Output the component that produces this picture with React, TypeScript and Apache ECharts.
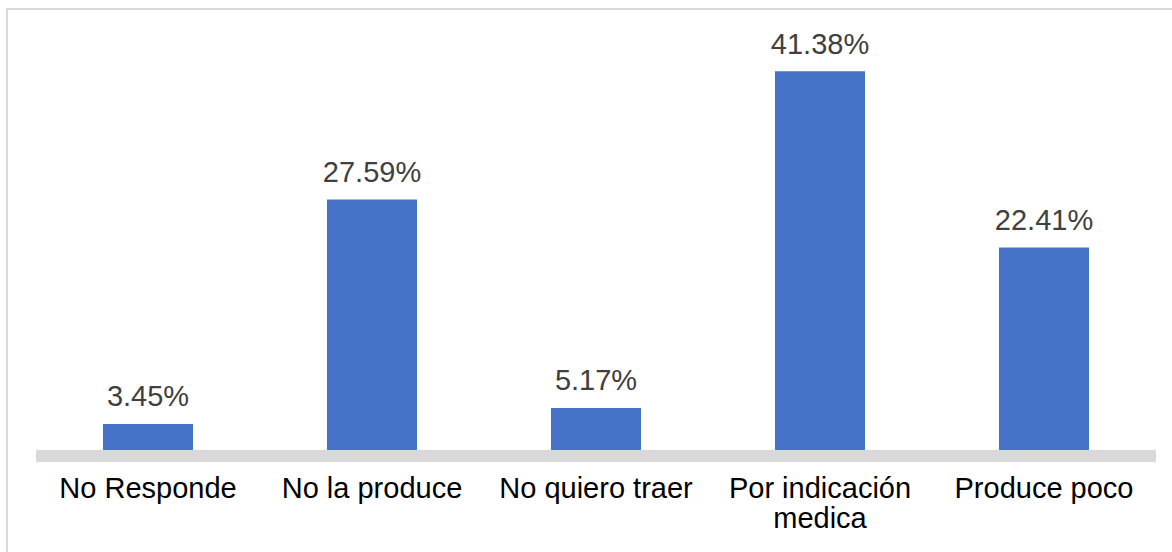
import React, { useEffect, useRef } from "react";
import * as echarts from "echarts";

const categories = ["No Responde", "No la produce", "No quiero traer", "Por indicación\nmedica", "Produce poco"];
const values = [3.45, 27.59, 5.17, 41.38, 22.41];

export default function App() {
  const ref = useRef<HTMLDivElement>(null);
  useEffect(() => {
    if (!ref.current) return;
    const chart = echarts.init(ref.current, null, { renderer: "svg" });
    chart.setOption({
      animation: false,
      backgroundColor: "#ffffff",
      textStyle: { fontFamily: "Liberation Sans, Arial, sans-serif" },
      graphic: [
        {
          type: "rect",
          silent: true,
          shape: { x: 7, y: 9, width: 3000, height: 3000 },
          style: { fill: "none", stroke: "#d9d9d9", lineWidth: 2 },
        },
      ],
      grid: { left: 36, right: 16, top: 37.5, bottom: 96, containLabel: false },
      xAxis: {
        type: "category",
        data: categories,
        z: 5,
        axisLine: { show: true, lineStyle: { color: "#d9d9d9", width: 12, cap: "butt" } },
        axisTick: { show: false },
        axisLabel: {
          color: "#000000",
          fontSize: 29,
          lineHeight: 30,
          margin: 17,
          interval: 0,
          fontFamily: "Liberation Sans, Arial, sans-serif",
        },
      },
      yAxis: {
        type: "value",
        min: 0,
        max: 45,
        show: false,
        splitLine: { show: false },
      },
      series: [
        {
          type: "bar",
          data: values,
          barWidth: 90,
          itemStyle: { color: "#4472C4" },
          label: {
            show: true,
            position: "top",
            distance: 13,
            color: "#404040",
            fontSize: 29,
            fontFamily: "Liberation Sans, Arial, sans-serif",
            formatter: (p: any) => p.value.toFixed(2) + "%",
          },
        },
      ],
    });
    return () => chart.dispose();
  }, []);
  return (
    <div
      ref={ref}
      style={{ position: "absolute", left: 0, top: 0, width: 1172, height: 552 }}
    />
  );
}
